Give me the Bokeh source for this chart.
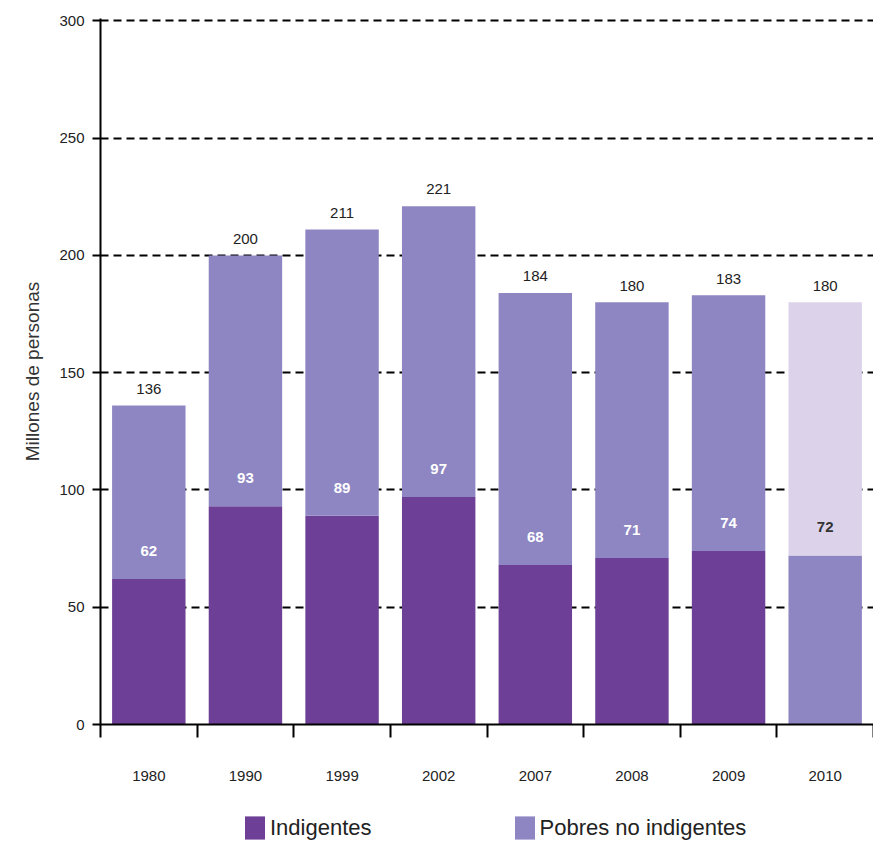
from bokeh.plotting import figure
from bokeh.models import (ColumnDataSource, Range1d, LinearAxis,
                          FixedTicker, Legend, LegendItem)
from bokeh.layouts import column
from bokeh.core.properties import value
from bokeh.embed import file_html
from bokeh.resources import INLINE

# ---- data ----
years = ["1980", "1990", "1999", "2002", "2007", "2008", "2009", "2010"]
indigentes = [62, 93, 89, 97, 68, 71, 74, 72]
totales = [136, 200, 211, 221, 184, 180, 183, 180]
proyeccion = [False, False, False, False, False, False, False, True]
y_ticks = [0, 50, 100, 150, 200, 250, 300]
series_names = ["Indigentes", "Pobres no indigentes"]

DARK = "#6d3f96"
MID = "#8e86c2"
LIGHT = "#dcd3ea"
FONT = "Liberation Sans"

n = len(years)
centers = [i + 0.5 for i in range(n)]
bounds = list(range(n + 1))
low_col = [MID if p else DARK for p in proyeccion]
up_col = [LIGHT if p else MID for p in proyeccion]
in_col = ["#333333" if p else "white" for p in proyeccion]

src = ColumnDataSource(dict(
    x=centers, ind=indigentes, tot=totales,
    low_col=low_col, up_col=up_col, in_col=in_col,
    tot_lbl=[str(v) for v in totales], ind_lbl=[str(v) for v in indigentes],
    tot_y=[v + 5 for v in totales], ind_y=[v + 12 for v in indigentes],
))

p = figure(width=873, height=795, x_range=Range1d(0, n), y_range=Range1d(0, 301),
           output_backend="svg", toolbar_location=None, x_axis_location=None,
           y_axis_location=None, min_border_left=100, min_border_right=0,
           min_border_top=18, min_border_bottom=71, outline_line_color=None)

# y axis
yax = LinearAxis(ticker=FixedTicker(ticks=y_ticks), axis_label="Millones de personas")
yax.axis_line_width = 2
yax.major_tick_line_width = 2
yax.major_tick_out = 8
yax.major_tick_in = 0
yax.minor_tick_line_color = None
yax.major_label_text_font = FONT
yax.major_label_text_font_size = "15px"
yax.major_label_text_color = "#222222"
yax.major_label_standoff = 8
yax.axis_label_text_font = FONT
yax.axis_label_text_font_size = "19px"
yax.axis_label_text_font_style = "normal"
yax.axis_label_text_color = "#333333"
yax.axis_label_standoff = 13
p.add_layout(yax, "left")

# x axis: year labels at category centres, tick marks at category boundaries
xax = LinearAxis(ticker=FixedTicker(ticks=centers, minor_ticks=bounds),
                 major_label_overrides={c: y for c, y in zip(centers, years)})
xax.axis_line_width = 2
xax.major_tick_line_color = None
xax.major_tick_out = 0
xax.major_tick_in = 0
xax.minor_tick_line_width = 2
xax.minor_tick_out = 13
xax.minor_tick_in = 0
xax.major_label_text_font = FONT
xax.major_label_text_font_size = "15px"
xax.major_label_text_color = "#222222"
xax.major_label_standoff = 33
p.add_layout(xax, "below")

p.xgrid.grid_line_color = None
p.ygrid.ticker = FixedTicker(ticks=y_ticks[1:])
p.ygrid.grid_line_color = "black"
p.ygrid.grid_line_width = 2
p.ygrid.grid_line_dash = "8 5"

p.vbar(x="x", bottom=0, top="ind", width=0.76, source=src,
       fill_color="low_col", line_color=None)
p.vbar(x="x", bottom="ind", top="tot", width=0.76, source=src,
       fill_color="up_col", line_color=None)

p.text(x="x", y="tot_y", text="tot_lbl", source=src, text_align="center",
       text_baseline="bottom", text_font=value(FONT), text_font_size="15px",
       text_color="#222222")
p.text(x="x", y="ind_y", text="ind_lbl", source=src, text_align="center",
       text_baseline="middle", text_font=value(FONT), text_font_size="15px",
       text_font_style="bold", text_color="in_col")

# legend in its own strip below the chart (swatch renderers sit outside the visible range)
lg = figure(width=873, height=50, x_range=Range1d(0, 1), y_range=Range1d(0, 1),
            output_backend="svg", toolbar_location=None, x_axis_location=None,
            y_axis_location=None, min_border=0, outline_line_color=None)
lg.grid.grid_line_color = None
k1 = lg.vbar(x=[-5], top=[-5], width=0.1, fill_color=DARK, line_color=None)
k2 = lg.vbar(x=[-5], top=[-5], width=0.1, fill_color=MID, line_color=None)
legend = Legend(items=[LegendItem(label=series_names[0], renderers=[k1]),
                       LegendItem(label=series_names[1], renderers=[k2])],
                orientation="horizontal", location=(142, 3),
                label_text_font=FONT, label_text_font_size="22px",
                label_text_color="#222222", glyph_width=25, glyph_height=29,
                label_standoff=3, spacing=140, border_line_color=None,
                background_fill_alpha=0, padding=0, margin=0)
lg.add_layout(legend, "center")

open("out.html", "w").write(file_html(column(p, lg), INLINE))
